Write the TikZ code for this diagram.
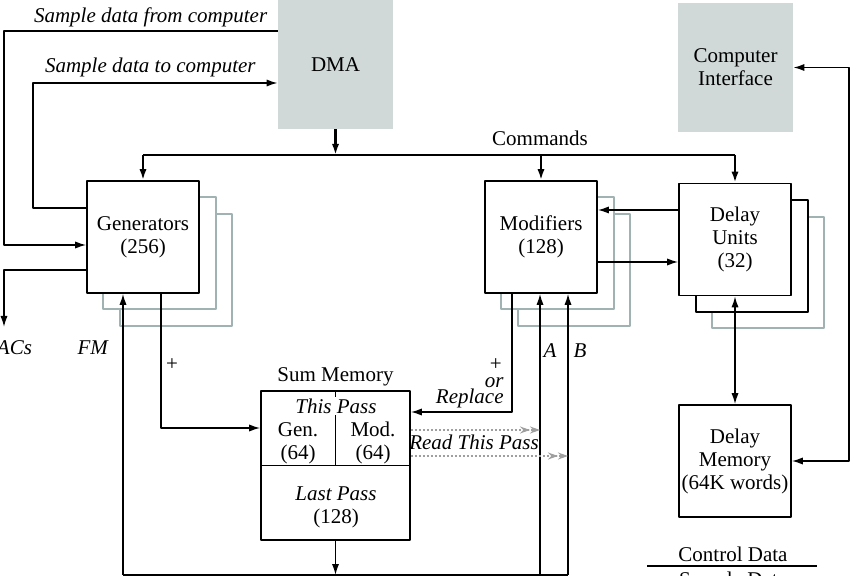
\documentclass[tikz,border=0pt]{standalone}
\usepackage{fontspec}
\setmainfont{Liberation Serif}
\usetikzlibrary{arrows.meta}
\definecolor{panelgray}{RGB}{208,216,216}
\definecolor{ghostgray}{RGB}{160,178,178}
\begin{document}
\begin{tikzpicture}[font=\fontsize{10.5}{11.5}\selectfont, line join=round, >={Latex[length=5.5pt,width=3.6pt]}, x=0.5pt, y=-0.5pt,
  unit/.style={draw, line width=0.8pt, fill=white, minimum width=56pt, minimum height=56pt, align=center, inner sep=0pt},
  panel/.style={fill=panelgray, minimum width=57.5pt, minimum height=64.5pt, align=center},
  wire/.style={line width=0.8pt},
  bus/.style={line width=1.3pt},
  ghost/.style={draw=ghostgray, fill=white, line width=0.8pt},
  readline/.style={draw=gray!75, line width=1pt, densely dotted, -{Stealth[open, length=5pt, width=3.5pt, sep=0pt]Stealth[open, length=5pt, width=3.5pt]}},
  lbl/.style={font=\fontsize{10.5}{11.5}\selectfont\itshape}]
\useasboundingbox (0,0) rectangle (850,576);
\def\busy{155}
\def\rety{575}
\foreach \cx/\cy in {143/237,541/237}{
  \draw[ghost] (\cx-23,\cy-23) rectangle (\cx+89,\cy+89);
  \draw[ghost] (\cx-40,\cy-40) rectangle (\cx+73,\cy+72);
}
\draw[ghost] (712,217) rectangle (824,328);
\draw[wire, fill=white] (696,200) rectangle (808,312);
\node[panel] (dma) at (335.5,64.5) {DMA};
\node[panel] (ci) at (735.5,67.5) {Computer\\Interface};
\node[unit] (gen) at (143,237) {Generators\\(256)};
\node[unit] (mod) at (541,237) {Modifiers\\(128)};
\node[unit] (du) at (735,239.5) {Delay\\Units\\(32)};
\node[unit] (dm) at (735,461) {Delay\\Memory\\(64K words)};
\node[draw, line width=0.8pt, minimum size=74.5pt, inner sep=0pt] (sum) at (335.5,465.5) {};
\node[anchor=base] at (sum.north |- 0,382) {Sum Memory};
\draw[wire] (sum.west) -- (sum.east);
\draw[wire] (sum.north) -- (sum.center);
\node[lbl, fill=white, inner sep=1pt] at (336,406) {This Pass};
\node[align=center] at (298,443) {Gen.\\(64)};
\node[align=center] at (373,443) {Mod.\\(64)};
\node[align=center] at (336,507) {\textit{Last Pass}\\(128)};
% commands bus
\draw[bus,->] (dma.south) -- (dma.south |- 0,\busy);
\draw[bus] (gen.north |- 0,\busy) -- (du.north |- 0,\busy);
\foreach \n in {gen,mod,du} \draw[bus,->] (\n.north |- 0,\busy) -- (\n.north);
\node[anchor=base] at (540,146) {Commands};
% sample data
\draw[wire,->] (dma.west |- 0,31) -| (4,245) -- (gen.west |- 0,245);
\draw[wire,->] (gen.west |- 0,208) -| (33,83) -- (dma.west |- 0,83);
\coordinate (dacs) at (4,327);
\draw[wire,->] (gen.west |- 0,270) -| (dacs);
\node[lbl, anchor=base west] at (27,23) {Sample data from computer};
\node[lbl, anchor=base west] at (38,73) {Sample data to computer};
\node[lbl, anchor=base east] at (39,355) {DACs};
% sum memory paths
\draw[wire,->] (gen.south -| 161,0) |- (sum.west |- 0,428);
\draw[wire,->] (mod.south -| 512,0) |- (sum.east |- 0,412);
\draw[wire,->] (sum.south) -- (sum.south |- 0,\rety);
\draw[wire] (123,\rety) -- (568,\rety);
\draw[wire,->] (123,\rety) -- (gen.south -| 123,0);
\foreach \x in {540,568} \draw[wire,->] (\x,\rety) -- (mod.south -| \x,0);
\draw[readline] (sum.east |- 0,430) -- (540,430);
\draw[readline] (sum.east |- 0,456) -- (568,456);
\node[anchor=base] at (172,371) {+};
\node[lbl, anchor=base east] at (115,355) {FM};
\node[lbl, anchor=base] at (550,358) {A};
\node[lbl, anchor=base] at (580,358) {B};
\node[anchor=base east, inner sep=0pt] at (502,371) {+};
\node[lbl, anchor=base east, inner sep=0pt] at (504,388) {or};
\node[lbl, anchor=base east, inner sep=0pt] at (504,404) {Replace};
\node[lbl, anchor=base] at (474,450) {Read This Pass};
% delay units
\draw[wire,->] (du.west |- 0,210) -- (mod.east |- 0,210);
\draw[wire,->] (mod.east |- 0,262) -- (du.west |- 0,262);
\draw[wire,<->] (du.south) -- (dm.north);
\draw[wire,<->] (dm.east) -| (ci.east -| 849,0) -- (ci.east);
% key
\node[anchor=base] at (733,561) {Control Data};
\draw[line width=1.2pt] (647,566) -- (817,566);
\node[anchor=base] at (733,586) {Sample Data};
\end{tikzpicture}
\end{document}
